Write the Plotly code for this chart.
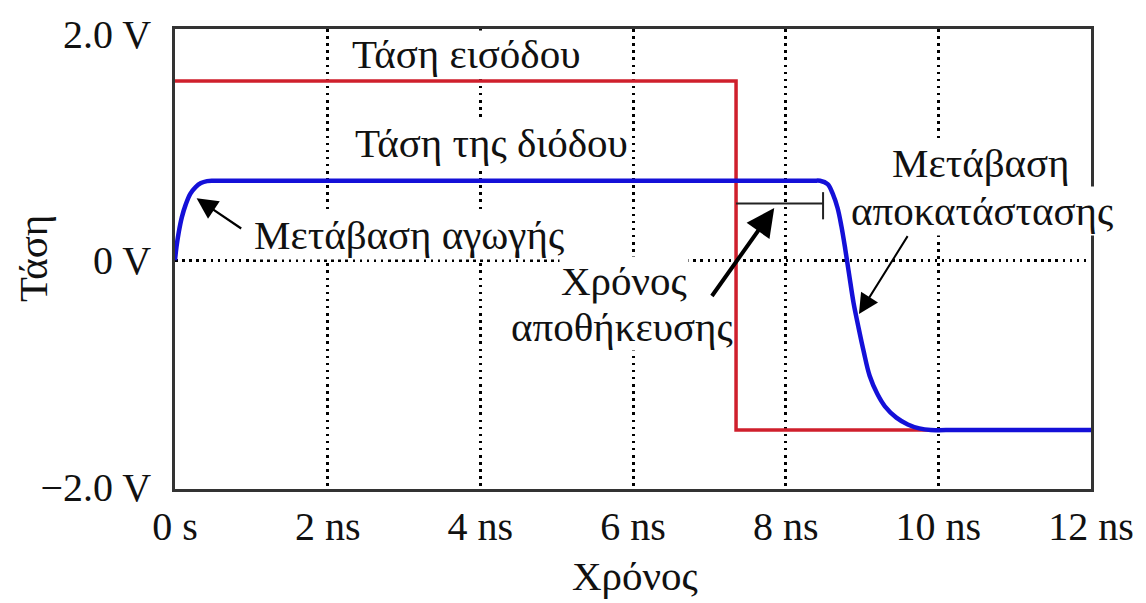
import plotly.graph_objects as go

# ---- data ----
time_ticks = [0, 2, 4, 6, 8, 10, 12]
time_labels = ['0 s', '2 ns', '4 ns', '6 ns', '8 ns', '10 ns', '12 ns']
volt_ticks = [-2, 0, 2]
volt_labels = ['\u22122.0 V', '0 V', '2.0 V']
volt_grid = [0]

# input voltage (ns, V)
input_t = [0, 7.35, 7.35, 12]
input_v = [1.58, 1.58, -1.5, -1.5]

# diode voltage (ns, V)
diode_t = [0, 0.02, 0.05, 0.09, 0.14, 0.20, 0.27, 0.34, 0.42, 0.50, 0.60,
           4.5, 8.35, 8.45, 8.55, 8.62, 8.68, 8.73, 8.78, 8.83, 8.89, 8.95, 9.02,
           9.10, 9.20, 9.30, 9.45, 9.60, 9.75, 9.90, 10.1, 12]
diode_v = [0, 0.12, 0.25, 0.38, 0.49, 0.585, 0.645, 0.68, 0.697, 0.70, 0.70,
           0.70, 0.70, 0.70, 0.67, 0.58, 0.46, 0.30, 0.10, -0.12, -0.38, -0.58, -0.80,
           -1.02, -1.18, -1.29, -1.39, -1.45, -1.485, -1.50, -1.50, -1.50]

# storage-time bracket
storage_t = [7.35, 8.49, None, 8.49, 8.49]
storage_v = [0.50, 0.50, None, 0.60, 0.36]

FONT = 'Liberation Serif, Times New Roman, serif'
FS = 41
TFS = 40
YR = [-2.02, 2.04]

fig = go.Figure()
fig.add_trace(go.Scatter(x=input_t, y=input_v, mode='lines',
                         line=dict(color='#cf1f2c', width=3.5), hoverinfo='skip'))
fig.add_trace(go.Scatter(x=diode_t, y=diode_v, mode='lines', line_shape='spline',
                         line=dict(color='#1410d8', width=4.5), hoverinfo='skip'))
fig.add_trace(go.Scatter(x=storage_t, y=storage_v, mode='lines', yaxis='y2',
                         line=dict(color='#222222', width=2), hoverinfo='skip'))

grid_style = dict(gridcolor='black', gridwidth=2.5, griddash='2.5px,4.6px')

fig.update_layout(
    width=1146, height=603,
    margin=dict(l=175, r=51, t=26, b=114),
    paper_bgcolor='white', plot_bgcolor='white',
    showlegend=False,
    font=dict(family=FONT, size=FS, color='#111111'),
    xaxis=dict(range=[0, 12], tickvals=time_ticks, ticktext=time_labels,
               showgrid=True, **grid_style,
               showline=True, mirror=True, linecolor='#333333', linewidth=2.5,
               ticks='', zeroline=False, ticklabelstandoff=0,
               tickfont=dict(family=FONT, size=TFS, color='#111111')),
    yaxis=dict(range=YR, tickvals=volt_ticks, ticktext=volt_labels,
               showgrid=False,
               showline=True, mirror=True, linecolor='#333333', linewidth=2.5,
               ticks='', zeroline=False, ticklabelstandoff=13,
               tickfont=dict(family=FONT, size=TFS, color='#111111')),
    yaxis2=dict(range=YR, overlaying='y', tickvals=volt_grid, showticklabels=False,
                showgrid=True, **grid_style, ticks='', zeroline=False, showline=False),
)

def label(text, x, y, pad=1):
    fig.add_annotation(x=x, y=y, xref='x', yref='y', text=text, showarrow=False,
                       bgcolor='white', borderpad=pad, align='center',
                       font=dict(family=FONT, size=FS, color='#111111'))

label('Τάση εισόδου', 3.81, 1.82, 0)
label('Τάση της διόδου', 4.15, 1.03)
label('Μετάβαση αγωγής', 3.06, 0.22)
label('Χρόνος', 5.88, -0.18)
label('αποθήκευσης', 5.855, -0.59, 0)
label('Μετάβαση', 10.56, 0.856)
label('αποκατάστασης', 10.57, 0.435)

def arrow(tip_x, tip_y, tail_x, tail_y, width, size):
    fig.add_annotation(x=tip_x, y=tip_y, ax=tail_x, ay=tail_y,
                       xref='x', yref='y', axref='x', ayref='y', text='',
                       showarrow=True, arrowhead=2, arrowsize=size,
                       arrowwidth=width, arrowcolor='black')

arrow(0.283, 0.546, 0.887, 0.27, 2.2, 1.9)
arrow(7.85, 0.46, 7.02, -0.33, 4, 1.4)
arrow(8.96, -0.476, 9.61, 0.225, 2, 2.0)

# axis titles
fig.add_annotation(x=-0.155, y=0.5, xref='paper', yref='paper', text='Τάση',
                   textangle=-90, showarrow=False, xanchor='center', yanchor='middle',
                   font=dict(family=FONT, size=FS, color='#111111'))
fig.add_annotation(x=0.502, y=-0.19, xref='paper', yref='paper', text='Χρόνος',
                   showarrow=False, xanchor='center', yanchor='middle',
                   font=dict(family=FONT, size=FS, color='#111111'))

fig.write_html('out.html', config={'displayModeBar': False},
               post_script="document.body.style.margin='0';document.body.style.padding='0';")
